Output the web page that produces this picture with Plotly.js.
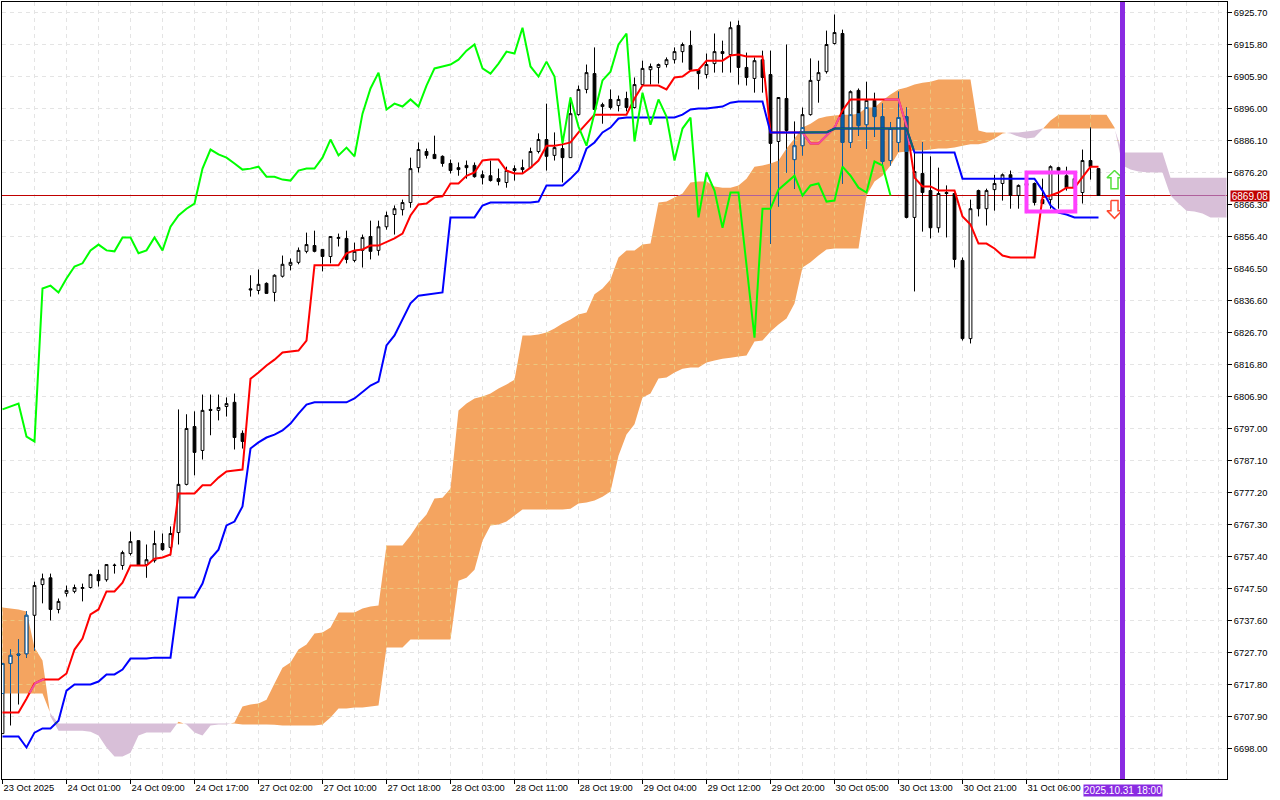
<!DOCTYPE html>
<html><head><meta charset="utf-8">
<script src="https://cdn.plot.ly/plotly-3.0.1.min.js"></script>
<style>html,body{margin:0;padding:0;background:#fff}#c{width:1280px;height:800px}</style>
</head><body><div id="c"></div>
<script>
const openPx=[6702.6,6724.3,6727.2,6727.3,6739.2,6748.7,6750.8,6741.0,6746.0,6746.6,
6747.5,6747.8,6751.8,6750.2,6754.6,6754.6,6758.3,6762.3,6754.9,6756.1,
6761.4,6760.2,6764.8,6779.7,6797.6,6790.2,6802.9,6802.6,6803.8,6805.1,
6795.5,6840.2,6839.7,6841.9,6839.1,6844.1,6847.5,6848.4,6851.8,6853.6,
6852.4,6850.2,6855.8,6855.8,6849.0,6852.1,6856.4,6852.1,6859.4,6863.2,
6864.7,6866.9,6877.7,6882.7,6881.8,6881.2,6879.0,6877.7,6878.4,6878.4,
6875.5,6875.2,6874.3,6873.1,6877.4,6877.7,6877.7,6882.7,6886.4,6881.5,
6883.6,6880.8,6894.1,6901.9,6906.8,6896.6,6898.8,6896.9,6899.1,6896.3,
6903.4,6908.0,6908.7,6909.6,6911.1,6913.6,6915.5,6908.0,6906.5,6909.9,
6913.6,6912.7,6921.7,6908.7,6905.3,6911.1,6906.5,6885.8,6899.1,6880.2,
6884.5,6894.1,6904.7,6907.4,6916.1,6919.2,6885.5,6901.6,6891.0,6898.5,
6893.5,6879.9,6885.5,6893.5,6862.3,6875.9,6870.6,6859.1,6870.0,6869.7,
6849.0,6824.8,6870.6,6865.0,6870.9,6872.8,6875.5,6869.1,6872.2,6872.8,
6867.8,6867.8,6877.7,6875.2,6871.5,6870.0,6879.9,6877.4];
const highPx=[6724.3,6728.6,6731.7,6740.4,6749.6,6752.1,6752.1,6744.4,6748.4,6748.7,
6749.0,6752.1,6753.3,6754.9,6755.2,6759.2,6765.1,6762.3,6761.1,6765.4,
6764.5,6766.7,6802.9,6801.4,6802.3,6807.5,6807.5,6807.5,6806.6,6807.8,
6796.4,6844.4,6846.2,6842.2,6844.7,6850.5,6849.6,6853.0,6857.6,6858.2,
6852.4,6856.4,6857.3,6858.2,6854.5,6857.0,6861.3,6861.3,6864.1,6866.0,
6867.8,6880.8,6885.5,6883.6,6887.6,6881.5,6880.2,6879.3,6879.9,6879.3,
6876.8,6879.9,6877.4,6878.0,6878.4,6880.2,6883.9,6888.3,6897.5,6888.6,
6886.1,6899.4,6903.1,6909.6,6914.9,6897.8,6901.9,6900.0,6901.2,6905.6,
6910.8,6909.9,6909.9,6911.8,6914.9,6916.4,6920.1,6908.0,6913.0,6919.2,
6917.0,6922.9,6923.2,6913.3,6911.8,6913.9,6913.9,6899.4,6915.8,6892.0,
6896.3,6911.5,6910.8,6920.1,6925.1,6920.4,6901.6,6902.2,6904.3,6900.9,
6897.5,6891.7,6901.2,6896.3,6882.4,6885.5,6881.2,6877.7,6872.2,6869.7,
6849.9,6867.8,6870.9,6871.2,6875.5,6875.9,6876.8,6872.5,6874.3,6873.1,
6874.3,6878.4,6878.0,6878.0,6876.2,6883.3,6890.1,6877.4];
const lowPx=[6702.6,6705.1,6711.6,6726.1,6728.3,6742.9,6737.6,6739.8,6745.0,6746.0,
6743.5,6747.5,6748.1,6749.6,6752.1,6753.3,6757.7,6754.6,6750.8,6755.5,
6759.2,6757.7,6761.1,6779.4,6782.5,6787.4,6794.9,6799.5,6800.7,6790.5,
6790.8,6837.8,6838.5,6838.8,6836.3,6843.7,6845.9,6847.8,6851.2,6851.5,
6845.6,6848.1,6853.3,6848.1,6848.4,6846.8,6849.3,6850.5,6858.5,6857.0,
6862.9,6865.3,6876.2,6880.5,6880.5,6878.0,6875.9,6875.2,6874.3,6874.6,
6872.5,6873.4,6872.2,6871.5,6873.7,6875.9,6877.4,6882.1,6876.8,6879.9,
6873.1,6880.8,6893.8,6900.7,6893.5,6891.3,6895.7,6895.1,6895.1,6896.0,
6903.1,6903.4,6903.7,6908.7,6909.9,6910.2,6907.7,6901.9,6905.3,6907.1,
6907.1,6907.1,6903.4,6903.1,6900.9,6900.9,6854.2,6865.7,6876.2,6871.2,
6881.5,6893.8,6897.8,6906.8,6915.8,6872.8,6883.9,6887.6,6883.6,6887.3,
6878.4,6878.4,6882.7,6862.0,6839.4,6857.9,6855.8,6857.6,6856.1,6846.8,
6824.2,6823.3,6862.6,6859.8,6864.4,6867.5,6865.0,6865.0,6869.1,6866.0,
6866.6,6865.0,6865.0,6870.6,6870.6,6866.6,6874.0,6869.08];
const closePx=[6724.3,6726.8,6726.9,6739.2,6748.4,6750.5,6741.0,6743.5,6746.9,6747.8,
6747.8,6751.8,6749.9,6754.9,6754.7,6758.6,6762.0,6754.6,6756.4,6761.4,
6759.5,6764.5,6779.7,6797.0,6789.6,6802.6,6802.6,6803.5,6804.7,6794.2,
6793.0,6839.9,6841.6,6838.8,6844.4,6847.8,6848.4,6852.1,6853.9,6851.8,
6850.2,6856.4,6856.1,6849.3,6851.8,6856.1,6851.8,6859.4,6862.9,6865.0,
6866.9,6877.4,6883.3,6881.5,6880.5,6879.0,6876.8,6877.1,6877.7,6874.9,
6874.6,6873.7,6873.4,6876.8,6876.8,6877.1,6882.7,6886.4,6881.2,6883.9,
6880.8,6894.4,6901.9,6907.1,6895.7,6897.2,6896.3,6898.8,6896.3,6903.4,
6908.4,6909.0,6909.6,6911.1,6913.6,6915.8,6908.0,6906.8,6909.6,6913.6,
6913.0,6921.0,6908.7,6905.6,6910.8,6905.6,6885.2,6899.4,6889.2,6884.5,
6894.1,6904.7,6907.1,6915.8,6919.5,6885.5,6901.2,6890.7,6898.5,6893.5,
6879.6,6889.8,6893.2,6862.3,6876.5,6870.0,6859.1,6869.7,6869.7,6849.3,
6824.8,6865.0,6865.0,6870.6,6872.8,6875.5,6869.1,6872.2,6872.8,6866.9,
6866.6,6878.0,6876.8,6871.5,6874.3,6879.9,6878.0,6869.08];

const tenkan=[6709.1,6709.1,6709.1,6713.4,6718.1,6719.3,6719.3,6719.3,6721.2,6728.6,
6732.0,6739.5,6741.0,6746.6,6746.6,6749.3,6754.6,6754.6,6754.6,6756.7,
6757.1,6758.0,6776.9,6776.9,6776.9,6779.4,6779.4,6781.8,6783.7,6784.0,
6784.3,6812.4,6814.3,6816.5,6818.3,6820.5,6820.8,6821.1,6824.2,6847.5,
6847.5,6847.5,6847.5,6851.2,6852.1,6852.4,6853.6,6853.6,6854.8,6855.8,
6857.3,6862.9,6866.3,6866.6,6868.5,6868.8,6872.8,6872.8,6875.2,6876.2,
6879.9,6880.2,6880.2,6876.8,6875.9,6875.9,6877.7,6879.9,6884.5,6884.5,
6884.9,6885.5,6888.6,6891.3,6894.1,6894.1,6894.1,6894.1,6894.1,6899.1,
6903.1,6903.1,6903.1,6901.9,6905.6,6905.9,6907.7,6908.0,6910.8,6910.8,
6910.8,6912.4,6912.7,6912.1,6912.1,6912.1,6888.6,6888.6,6888.6,6888.6,
6888.6,6885.2,6885.2,6887.6,6890.1,6895.4,6898.8,6898.8,6898.8,6898.8,
6898.8,6898.8,6898.8,6890.7,6874.6,6871.9,6871.9,6870.6,6870.6,6870.6,
6862.6,6860.1,6854.2,6854.2,6852.7,6850.5,6849.9,6849.9,6849.9,6849.9,
6868.5,6869.1,6870.0,6871.5,6871.5,6874.6,6878.0,6878.0];
const kijun=[6701.7,6701.7,6701.7,6698.3,6702.9,6704.2,6704.2,6706.6,6715.9,6717.8,
6717.8,6717.8,6718.7,6720.9,6720.9,6722.4,6725.8,6725.8,6725.8,6726.1,
6726.1,6726.1,6744.7,6744.7,6744.7,6749.0,6756.7,6759.5,6767.0,6768.2,
6772.9,6790.8,6792.7,6794.2,6795.1,6796.4,6798.5,6801.6,6804.4,6805.1,
6805.1,6805.1,6805.1,6805.1,6806.3,6808.4,6810.3,6811.5,6822.7,6825.8,
6831.0,6835.7,6838.1,6838.5,6838.8,6839.1,6862.3,6862.3,6862.3,6862.3,
6866.0,6866.9,6866.9,6866.9,6866.9,6866.9,6866.9,6867.2,6872.2,6872.2,
6872.2,6874.3,6876.8,6883.6,6885.5,6888.6,6890.1,6892.9,6893.2,6893.2,
6893.2,6893.2,6893.2,6893.2,6893.2,6894.1,6895.7,6896.0,6896.0,6896.3,
6896.6,6897.8,6898.2,6898.2,6898.2,6898.2,6888.6,6888.6,6888.6,6888.6,
6888.6,6888.6,6888.6,6888.6,6889.8,6889.8,6889.8,6889.8,6889.8,6889.8,
6889.8,6889.8,6889.8,6889.8,6882.4,6882.4,6882.4,6882.4,6882.4,6882.4,
6874.3,6874.3,6874.3,6874.3,6874.3,6874.3,6874.3,6874.3,6874.3,6874.3,
6870.6,6866.0,6863.8,6863.2,6862.3,6862.3,6862.3,6862.3];
const chikou=[6802.9,6803.8,6804.7,6794.5,6793.0,6840.3,6841.2,6839.1,6843.4,6847.1,
6848.1,6852.1,6853.9,6852.1,6851.8,6856.1,6856.1,6851.2,6852.1,6856.1,
6852.1,6859.4,6862.9,6865.0,6866.6,6877.4,6883.3,6881.8,6880.8,6879.0,
6877.1,6877.4,6878.0,6874.9,6874.9,6874.0,6873.7,6876.8,6877.4,6877.4,
6880.8,6886.4,6881.5,6883.9,6881.2,6894.4,6902.2,6907.1,6895.7,6897.5,
6896.6,6898.8,6896.6,6903.1,6908.4,6909.0,6909.6,6911.1,6913.9,6915.8,
6908.4,6906.8,6909.9,6913.6,6913.0,6921.0,6909.0,6905.9,6910.5,6905.9,
6885.2,6899.4,6890.4,6884.5,6894.8,6904.7,6907.4,6915.8,6919.2,6885.8,
6900.9,6891.0,6898.8,6893.5,6879.9,6889.8,6893.2,6862.3,6876.2,6870.6,
6859.1,6870.0,6870.0,6846.8,6825.1,6865.0,6865.0,6870.9,6873.1,6875.2,
6869.1,6872.2,6872.8,6867.2,6867.5,6878.0,6875.2,6871.5,6870.0,6879.6,
6878.4,6869.1];
const spanA=[6741.6,6741.3,6741.0,6740.4,6729.2,6725.2,6707.9,6703.5,6703.5,6703.5,
6703.5,6703.2,6702.0,6698.3,6695.5,6695.5,6696.7,6702.0,6702.9,6702.9,
6702.9,6702.9,6706.3,6705.4,6702.9,6702.0,6705.1,6705.4,6705.4,6706.0,
6711.0,6711.6,6711.9,6713.1,6718.1,6723.0,6724.6,6728.6,6730.2,6733.6,
6733.9,6735.4,6740.1,6740.1,6740.1,6741.3,6741.9,6742.2,6760.8,6760.8,
6760.8,6763.9,6767.6,6770.4,6775.3,6775.6,6778.4,6802.6,6804.7,6806.3,
6806.9,6807.8,6809.4,6810.6,6812.1,6825.8,6825.8,6826.1,6826.7,6827.9,
6829.5,6830.7,6832.3,6832.9,6838.5,6840.3,6843.1,6849.9,6852.1,6852.1,
6853.9,6854.2,6866.9,6867.2,6868.5,6869.7,6873.1,6873.4,6873.4,6871.9,
6871.5,6871.5,6872.2,6874.3,6878.0,6878.4,6879.0,6879.9,6883.6,6886.7,
6890.1,6891.3,6892.9,6893.5,6893.8,6894.1,6894.1,6894.4,6896.3,6896.3,
6898.5,6900.3,6901.9,6902.5,6903.4,6904.0,6904.3,6905.0,6905.0,6905.0,
6905.0,6905.0,6889.2,6888.6,6888.6,6888.6,6888.3,6887.3,6886.7,6887.0,
6889.6,6892.3,6894.1,6894.1,6894.1,6894.1,6894.1,6894.1,6894.1,6890.1,
6878.4,6877.1,6876.5,6876.3,6876.2,6876.2,6869.1,6866.6,6864.4,6864.1,
6863.5,6862.3,6862.3,6862.3];
const spanB=[6715.0,6715.0,6715.0,6715.0,6715.0,6715.0,6708.8,6705.7,6705.7,6705.7,
6705.7,6705.7,6705.7,6705.7,6705.7,6705.7,6705.7,6705.7,6705.7,6705.7,
6705.7,6705.7,6705.7,6705.7,6705.7,6705.7,6705.7,6705.7,6705.7,6705.7,
6705.4,6705.4,6705.4,6705.4,6705.3,6705.1,6705.1,6705.1,6705.1,6705.1,
6705.4,6707.6,6710.4,6710.4,6710.7,6710.7,6711.0,6711.3,6729.2,6729.2,
6729.2,6731.7,6731.7,6731.7,6731.7,6731.7,6731.7,6749.9,6750.8,6753.3,
6762.3,6767.0,6767.3,6768.2,6770.1,6771.9,6771.9,6771.9,6771.9,6771.9,
6771.9,6772.2,6773.8,6774.1,6774.7,6775.9,6777.5,6788.6,6795.1,6798.3,
6806.6,6807.8,6812.5,6812.8,6814.3,6815.5,6815.9,6815.9,6817.4,6818.0,
6818.6,6818.9,6819.3,6819.6,6823.9,6824.2,6827.0,6829.2,6831.0,6835.7,
6846.8,6848.4,6850.5,6852.4,6852.7,6852.7,6852.7,6852.7,6869.1,6873.4,
6875.2,6878.4,6882.4,6882.7,6883.0,6883.0,6883.3,6883.6,6883.6,6883.9,
6884.5,6884.9,6884.9,6885.5,6886.7,6888.3,6888.6,6888.6,6888.9,6889.2,
6889.8,6889.8,6889.8,6889.8,6889.8,6889.8,6889.8,6889.8,6889.8,6889.8,
6882.4,6882.4,6882.4,6882.4,6882.4,6882.4,6874.6,6874.6,6874.6,6874.6,
6874.6,6874.6,6874.6,6874.6];

const priceTicks=[6925.7,6915.8,6905.9,6896.0,6886.1,6876.2,6866.3,6856.4,6846.5,6836.6,6826.7,6816.8,
6806.9,6797.0,6787.1,6777.2,6767.3,6757.4,6747.5,6737.6,6727.7,6717.8,6707.9,6698.0];
const timeTickBars=[0,8,16,24,32,40,48,56,64,72,80,88,96,104,112,120,128];
const timeTickLabels=["23 Oct 2025","24 Oct 01:00","24 Oct 09:00","24 Oct 17:00","27 Oct 02:00","27 Oct 10:00",
"27 Oct 18:00","28 Oct 03:00","28 Oct 11:00","28 Oct 19:00","29 Oct 04:00","29 Oct 12:00","29 Oct 20:00",
"30 Oct 05:00","30 Oct 13:00","30 Oct 21:00","31 Oct 06:00"];
const bidPrice=6869.08, bidLabel="6869.08";
const cursorBar=140, cursorLabel="2025.10.31 18:00";
const boxBars=[128,134.1], boxPrices=[6864.1,6876.2];
const upArrowBars=[139,139.94,139.44,139.44,138.56,138.56,138.06,139];
const upArrowPrices=[6876.8,6874.6,6874.6,6871.2,6871.2,6874.6,6874.6,6876.8];
const downArrowBars=[138.56,139.44,139.44,139.94,139,138.06,138.56,138.56];
const downArrowPrices=[6867.5,6867.5,6864.4,6864.4,6862.0,6864.4,6864.4,6867.5];

const xRange=[-0.0625,153.0625], yRange=[6688.55,6928.95];
const C={orange:'#f4a460',thistle:'#d8bfd8',inBlue:'#0b5fa5',teal:'#0f6868',pink:'#f050a0',
 bid:'#c00000',bidIn:'#b0609c',red:'#ff0000',blue:'#0000ff',green:'#00ff00',violet:'#8a2be2',box:'#ff40ff',gridIn:'#ecc77f'};

function cloudPolys(sign){
  const xs=[],ys=[];let up=[],lo=[];
  const flush=()=>{ if(up.length){ const pts=up.concat(lo.reverse()); pts.push(pts[0]);
      pts.forEach(p=>{xs.push(p[0]);ys.push(p[1]);}); xs.push(null);ys.push(null);} up=[];lo=[]; };
  for(let k=0;k<spanA.length;k++){
    const d=(spanA[k]-spanB[k])*sign;
    if(d>=0){up.push([k,sign>0?spanA[k]:spanB[k]]);lo.push([k,sign>0?spanB[k]:spanA[k]]);}
    if(k<spanA.length-1){
      const d2=(spanA[k+1]-spanB[k+1])*sign;
      if((d>=0)!==(d2>=0)){
        const t=d/(d-d2), v=spanA[k]+t*(spanA[k+1]-spanA[k]);
        up.push([k+t,v]);lo.push([k+t,v]);
        if(d>=0) flush();
      }
    }
  }
  flush();
  return {x:xs,y:ys};
}
const cloudBounds=k=>{const i=Math.floor(k),t=k-i,j=Math.min(i+1,spanA.length-1);
  const a=spanA[i]+t*(spanA[j]-spanA[i]),b=spanB[i]+t*(spanB[j]-spanB[i]);
  return [Math.min(a,b),Math.max(a,b)];};
function insideCloud(series){
  const xs=[],ys=[];
  for(let k=0;k<series.length-1;k++){
    for(let s=0;s<8;s++){
      const t=s/8,v=series[k]+t*(series[k+1]-series[k]),[lo,hi]=cloudBounds(k+t);
      xs.push(k+t);ys.push(v>=lo&&v<=hi?v:null);
    }
  }
  return {x:xs,y:ys};
}
const inO=[],inH=[],inL=[],inC=[],inX=[],wickX=[],wickY=[];
openPx.forEach((o,k)=>{
  const c=closePx[k],[lo,hi]=cloudBounds(k),bt=Math.max(o,c),bb=Math.min(o,c);
  const seg=(a,b)=>{const t=Math.min(a,hi),u=Math.max(b,lo); if(t>u){wickX.push(k,k,null);wickY.push(t,u,null);}};
  seg(highPx[k],bt); seg(bb,lowPx[k]);
  const t=Math.min(bt,hi),u=Math.max(bb,lo);
  if(t>u){inX.push(k);
    const cu=c>=o; inO.push(cu?u:t);inC.push(cu?t:u);inH.push(t);inL.push(u);}
});
// grid as seen through the orange part of the cloud
const gridX=[],gridY=[];
priceTicks.forEach(p=>{
  const r=insideCloud(spanA.map(()=>p));
  r.x.forEach((x,i)=>{const isOrange=spanA[Math.floor(x)]>spanB[Math.floor(x)];
    gridX.push(x);gridY.push(isOrange?r.y[i]:null);});
  gridX.push(null);gridY.push(null);
});
spanA.forEach((a,k)=>{ if(k%4===0&&a>spanB[k]){gridX.push(k,k,null);gridY.push(a,spanB[k],null);} });

const bars=openPx.map((_,i)=>i);
const bidSeries=spanA.map(()=>bidPrice);
const over={xaxis:'x2',yaxis:'y2',hoverinfo:'skip',showlegend:false};
const po=cloudPolys(1),pt=cloudPolys(-1);
const iBid=insideCloud(bidSeries),iTen=insideCloud(tenkan),iKij=insideCloud(kijun);
const ln=(x,y,color,width)=>Object.assign({type:'scatter',mode:'lines',x,y,line:{color,width:width||2},connectgaps:false},over);

const traces=[
 {type:'scatter',mode:'lines',x:xRange,y:[bidPrice,bidPrice],line:{color:C.bid,width:1},hoverinfo:'skip',showlegend:false},
 {type:'scatter',mode:'none',x:po.x,y:po.y,fill:'toself',fillcolor:C.orange,hoverinfo:'skip',showlegend:false},
 {type:'scatter',mode:'none',x:pt.x,y:pt.y,fill:'toself',fillcolor:C.thistle,hoverinfo:'skip',showlegend:false},
 {type:'scatter',mode:'lines',x:gridX,y:gridY,line:{color:C.gridIn,width:1,dash:'4px,4px'},connectgaps:false,hoverinfo:'skip',showlegend:false},
 ln(iBid.x,iBid.y,C.bidIn,1),
 Object.assign({type:'candlestick',x:bars,open:openPx,high:highPx,low:lowPx,close:closePx,
   increasing:{line:{color:'#000',width:1},fillcolor:'#fff'},
   decreasing:{line:{color:'#000',width:1},fillcolor:'#000'}},over),
 Object.assign({type:'candlestick',x:inX,open:inO,high:inH,low:inL,close:inC,
   increasing:{line:{color:C.inBlue,width:1},fillcolor:'#fff'},
   decreasing:{line:{color:C.inBlue,width:1},fillcolor:C.inBlue}},over),
 ln(wickX,wickY,C.inBlue,1),
 ln(bars,tenkan,C.red),
 ln(iTen.x,iTen.y,C.pink),
 ln(bars,kijun,C.blue),
 ln(iKij.x,iKij.y,C.teal),
 ln(chikou.map((_,i)=>i),chikou,C.green),
 Object.assign({type:'scatter',mode:'lines',x:upArrowBars,y:upArrowPrices,fill:'toself',fillcolor:'#fff',line:{color:'#55e03c',width:1.5}},over),
 Object.assign({type:'scatter',mode:'lines',x:downArrowBars,y:downArrowPrices,fill:'toself',fillcolor:'#fff',line:{color:'#ff4a30',width:1.5}},over)
];

const tickFont={family:'"Liberation Sans",Arial,sans-serif',size:9.3,color:'#000'};
const layout={
 width:1280,height:800,margin:{l:2,r:53,t:2,b:21},paper_bgcolor:'#fff',plot_bgcolor:'#fff',
 showlegend:false,boxmode:'overlay',boxgap:0.5,hovermode:false,
 xaxis:{range:xRange,tickmode:'array',tickvals:timeTickBars,ticktext:timeTickLabels,ticks:'outside',ticklen:4,tickcolor:'#000',
   tickfont:tickFont,tickangle:0,ticklabelposition:'outside right',showline:true,linecolor:'#000',linewidth:1,mirror:true,
   showgrid:true,gridcolor:'#e4e4e4',griddash:'4px,4px',gridwidth:1,zeroline:false,rangeslider:{visible:false},
   minor:{tick0:0,dtick:4,showgrid:true,gridcolor:'#e4e4e4',griddash:'4px,4px',gridwidth:1,ticks:''}},
 yaxis:{range:yRange,side:'right',tickmode:'array',tickvals:priceTicks,tickformat:'.2f',ticks:'outside',ticklen:4,tickcolor:'#000',
   tickfont:tickFont,showline:true,linecolor:'#000',linewidth:1,mirror:true,
   showgrid:true,gridcolor:'#e4e4e4',griddash:'4px,4px',gridwidth:1,zeroline:false},
 xaxis2:{range:xRange,overlaying:'x',visible:false,rangeslider:{visible:false}},
 yaxis2:{range:yRange,overlaying:'y',visible:false,side:'right'},
 shapes:[
  {type:'line',xref:'x',yref:'paper',x0:cursorBar,x1:cursorBar,y0:0,y1:1,line:{color:C.violet,width:5},layer:'above'},
  {type:'rect',xref:'x',yref:'y',x0:boxBars[0],x1:boxBars[1],y0:boxPrices[0],y1:boxPrices[1],line:{color:C.box,width:4},fillcolor:'rgba(0,0,0,0)',layer:'above'}
 ],
 annotations:[
  {xref:'x',yref:'paper',x:cursorBar,y:0,yanchor:'top',xanchor:'center',yshift:-5,showarrow:false,text:cursorLabel,
   font:{family:tickFont.family,size:10,color:'#fff'},bgcolor:C.violet,width:78,height:11,borderpad:0},
  {xref:'paper',yref:'y',x:1,y:bidPrice,xanchor:'left',yanchor:'middle',xshift:3,showarrow:false,text:bidLabel,
   font:{family:tickFont.family,size:10,color:'#fff'},bgcolor:'#c00000',width:38,height:10,borderpad:0}
 ]
};
Plotly.newPlot('c',traces,layout,{displayModeBar:false,staticPlot:true});
</script></body></html>
